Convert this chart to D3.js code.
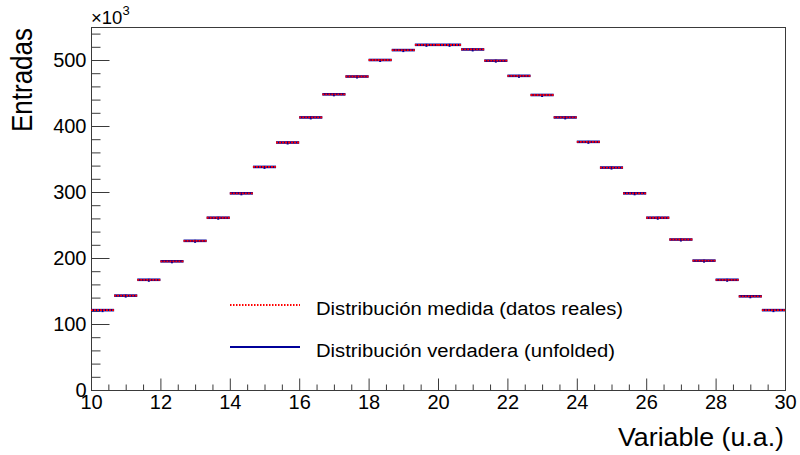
<!DOCTYPE html>
<html>
<head>
<meta charset="utf-8">
<script src="https://cdn.jsdelivr.net/npm/d3@7"></script>
<style>
  html, body { margin: 0; padding: 0; background: #fff; }
  svg { display: block; }
  text { font-family: "Liberation Sans", Arial, Helvetica, sans-serif; fill: #000; }
</style>
</head>
<body>
<svg id="chart" width="800" height="455"></svg>
<script>
// Histogram range and binning
const xMin = 10, xMax = 30, nBins = 30;

// Bin contents (entries)
const medida = [
  121000, 143000, 167000, 195000, 226000, 261000, 298000, 338000, 375000, 413000,
  448000, 475000, 500000, 515000, 523000, 523000, 516000, 499000, 476000, 447000,
  413000, 376000, 337000, 298000, 261000, 228000, 196000, 167000, 142000, 121000
];
const verdadera = [
  121000, 143000, 167000, 195000, 226000, 261000, 298000, 338000, 375000, 413000,
  448000, 475000, 500000, 515000, 523000, 523000, 516000, 499000, 476000, 447000,
  413000, 376000, 337000, 298000, 261000, 228000, 196000, 167000, 142000, 121000
];

// Axis ticks
const xMajor = [10, 12, 14, 16, 18, 20, 22, 24, 26, 28, 30];
const yMajor = [0, 100000, 200000, 300000, 400000, 500000];
const yMax = 550000;

// Legend entries
const legendLabels = ["Distribución medida (datos reales)", "Distribución verdadera (unfolded)"];

const svg = d3.select("#chart");
const padL = 91, padR = 785, padT = 27, padB = 390;
const frameColor = "#3a3a3a";

const x = d3.scaleLinear().domain([xMin, xMax]).range([padL, padR]);
const y = d3.scaleLinear().domain([0, yMax]).range([padB, padT]);

const binW = (xMax - xMin) / nBins;
const bins = d3.range(nBins).map(i => ({
  lo: xMin + i * binW,
  hi: xMin + (i + 1) * binW,
  mid: xMin + (i + 0.5) * binW,
  med: medida[i],
  ver: verdadera[i]
}));

// Frame
svg.append("rect")
  .attr("x", padL + 0.5).attr("y", padT + 0.5)
  .attr("width", padR - padL).attr("height", padB - padT)
  .attr("fill", "none").attr("stroke", frameColor).attr("stroke-width", 1);

// Y axis: minor ticks then major ticks with labels
const yMinor = d3.range(0, yMax + 1, 20000).filter(v => !yMajor.includes(v));
svg.append("g")
  .attr("transform", `translate(${padL + 0.5},0)`)
  .call(d3.axisLeft(y).tickValues(yMinor).tickSizeInner(-9).tickSizeOuter(0).tickFormat(""))
  .call(g => g.select(".domain").remove());
svg.append("g")
  .attr("transform", `translate(${padL + 0.5},0)`)
  .call(d3.axisLeft(y).tickValues(yMajor).tickSizeInner(-18).tickSizeOuter(0).tickPadding(5)
    .tickFormat(d => d / 1000))
  .call(g => g.select(".domain").remove())
  .call(g => g.selectAll("text").style("font-size", "20px"));

// X axis: minor ticks then major ticks with labels
const xMinor = d3.range(xMin, xMax + 0.001, 0.5).filter(v => !xMajor.includes(v));
svg.append("g")
  .attr("transform", `translate(0,${padB + 0.5})`)
  .call(d3.axisBottom(x).tickValues(xMinor).tickSizeInner(-6).tickSizeOuter(0).tickFormat(""))
  .call(g => g.select(".domain").remove());
svg.append("g")
  .attr("transform", `translate(0,${padB + 0.5})`)
  .call(d3.axisBottom(x).tickValues(xMajor).tickSizeInner(-12).tickSizeOuter(0).tickPadding(4))
  .call(g => g.select(".domain").remove())
  .call(g => g.selectAll("text").style("font-size", "20px"));

svg.selectAll(".tick line").attr("stroke", frameColor);

// Exponent label of the y axis
const expo = svg.append("text").attr("x", padL).attr("y", 24).style("font-size", "18.5px");
expo.append("tspan").text("×10");
expo.append("tspan").attr("dy", -9).style("font-size", "13px").text("3");

// Axis titles
svg.append("text")
  .attr("transform", `translate(32,28) rotate(-90)`)
  .attr("text-anchor", "end")
  .attr("textLength", 104).attr("lengthAdjust", "spacingAndGlyphs")
  .style("font-size", "30px")
  .text("Entradas");
svg.append("text")
  .attr("x", 784).attr("y", 446)
  .attr("text-anchor", "end")
  .attr("textLength", 166).attr("lengthAdjust", "spacingAndGlyphs")
  .style("font-size", "26px")
  .text("Variable (u.a.)");

// Histograms: true distribution (solid blue) under measured (dotted red)
const blue = "#000099", red = "#ff0000";
const hist = svg.append("g");
hist.selectAll("line.ver").data(bins).join("line")
  .attr("class", "ver")
  .attr("x1", d => x(d.lo)).attr("x2", d => x(d.hi))
  .attr("y1", d => y(d.ver)).attr("y2", d => y(d.ver))
  .attr("stroke", blue).attr("stroke-width", 2.6);
hist.selectAll("rect.mk").data(bins).join("rect")
  .attr("class", "mk")
  .attr("x", d => x(d.mid) - 1).attr("y", d => y(d.ver) - 1)
  .attr("width", 2).attr("height", 3)
  .attr("fill", blue);
hist.selectAll("line.med").data(bins).join("line")
  .attr("class", "med")
  .attr("x1", d => x(d.lo)).attr("x2", d => x(d.hi))
  .attr("y1", d => y(d.med)).attr("y2", d => y(d.med))
  .attr("stroke", red).attr("stroke-width", 1.8)
  .attr("stroke-dasharray", "2,1");

// Legend
const legend = svg.append("g");
const legendRows = [
  { label: legendLabels[0], color: red, dash: "1.5,1.5", len: 307, ly: 305 },
  { label: legendLabels[1], color: blue, dash: null, len: 299, ly: 347 }
];
legendRows.forEach(r => {
  legend.append("line")
    .attr("x1", 230).attr("x2", 300).attr("y1", r.ly).attr("y2", r.ly)
    .attr("stroke", r.color).attr("stroke-width", 2)
    .attr("stroke-dasharray", r.dash);
  legend.append("text")
    .attr("x", 316).attr("y", r.ly + 10)
    .attr("textLength", r.len).attr("lengthAdjust", "spacingAndGlyphs")
    .style("font-size", "18px")
    .text(r.label);
});
</script>
</body>
</html>
